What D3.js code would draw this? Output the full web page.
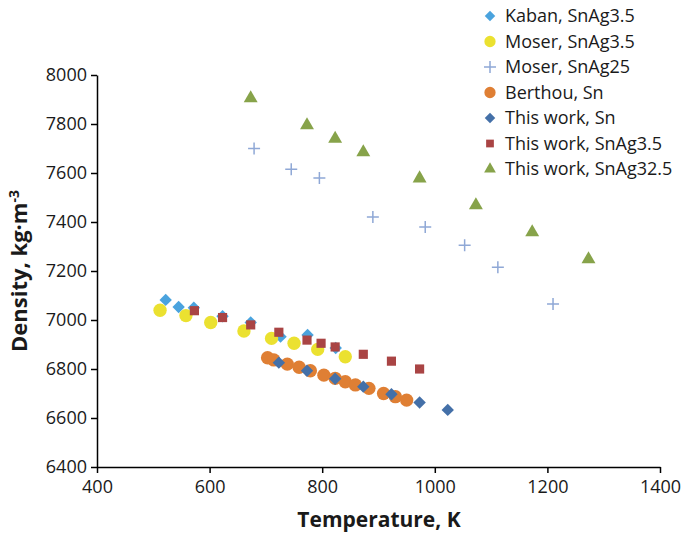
<!DOCTYPE html>
<meta charset="utf-8">
<script src="https://d3js.org/d3.v7.min.js"></script>
<style>
body { margin: 0; background: #fff; }
svg text { font-family: "Open Sans", "Noto Sans", sans-serif; fill: #1a1a1a; }
.axis path, .axis line { stroke: #000; stroke-width: 1.5; }
.axis text { font-size: 18px; }
.titulo { font-weight: bold; }
.legenda text { font-size: 18px; }
</style>
<body>
<div id="canvas"></div>
<script>

// ticks
var xTicks = [400, 600, 800, 1000, 1200, 1400];
var yTicks = [6400, 6600, 6800, 7000, 7200, 7400, 7600, 7800, 8000];

// series (temperature K, density kg/m3)
var kabanT = [522, 545, 572, 623, 673, 726, 774, 824];
var kabanD = [7082, 7053, 7050, 7015, 6990, 6932, 6939, 6886];

var moser35T = [512, 558, 602, 661, 710, 750, 792, 841];
var moser35D = [7040, 7018, 6990, 6955, 6925, 6905, 6880, 6850];

var moser25T = [679, 745, 795, 890, 983, 1053, 1112, 1210];
var moser25D = [7700, 7615, 7580, 7420, 7380, 7305, 7215, 7065];

var berthouT = [703, 714, 738, 759, 779, 803, 823, 841, 859, 883, 909, 930, 950];
var berthouD = [6846, 6837, 6820, 6807, 6793, 6775, 6762, 6748, 6735, 6721, 6700, 6687, 6673];

var snT = [723, 773, 823, 873, 923, 973, 1023];
var snD = [6826, 6793, 6760, 6728, 6697, 6663, 6633];

var snag35T = [573, 623, 673, 723, 773, 798, 823, 873, 923, 973];
var snag35D = [7038, 7010, 6980, 6950, 6918, 6905, 6890, 6860, 6832, 6800];

var snag325T = [673, 773, 823, 873, 973, 1073, 1173, 1273];
var snag325D = [7905, 7795, 7740, 7685, 7578, 7468, 7358, 7248];

var series = [
  {nome: "Kaban, SnAg3.5", t: kabanT, d: kabanD, cor: "#4aa3de", forma: "diamante"},
  {nome: "Moser, SnAg3.5", t: moser35T, d: moser35D, cor: "#ebe130", forma: "circulo"},
  {nome: "Moser, SnAg25", t: moser25T, d: moser25D, cor: "#8fa8d6", forma: "cruz"},
  {nome: "Berthou, Sn", t: berthouT, d: berthouD, cor: "#df7f34", forma: "circulo"},
  {nome: "This work, Sn", t: snT, d: snD, cor: "#4470a8", forma: "diamante"},
  {nome: "This work, SnAg3.5", t: snag35T, d: snag35D, cor: "#a94444", forma: "quadrado"},
  {nome: "This work, SnAg32.5", t: snag325T, d: snag325D, cor: "#87a34a", forma: "triangulo"}
];

var width = 682, height = 534;
var margin = {top: 75, right: 22, bottom: 67, left: 97};

var svg = d3.select("#canvas").append("svg")
  .attr("width", width).attr("height", height);

var x = d3.scaleLinear().domain([400, 1400]).range([margin.left, width - margin.right]);
var y = d3.scaleLinear().domain([6400, 8000]).range([height - margin.bottom, margin.top]);

// eixos
svg.append("g").attr("class", "axis")
  .attr("transform", "translate(0," + y(6400) + ")")
  .call(d3.axisBottom(x).tickValues(xTicks).tickFormat(d3.format("d")).tickSize(6).tickSizeOuter(0).tickPadding(5))
  .selectAll("text").attr("dy", "0.85em");

svg.append("g").attr("class", "axis")
  .attr("transform", "translate(" + x(400) + ",0)")
  .call(d3.axisLeft(y).tickValues(yTicks).tickFormat(d3.format("d")).tickSize(6).tickSizeOuter(0).tickPadding(4));

// simbolos
function simbolo(forma, tam) {
  if (forma == "diamante") return d3.symbol().type(d3.symbolSquare).size(tam * 0.55)();
  if (forma == "circulo") return d3.symbol().type(d3.symbolCircle).size(tam)();
  if (forma == "quadrado") return d3.symbol().type(d3.symbolSquare).size(tam * 0.6)();
  if (forma == "triangulo") return d3.symbol().type(d3.symbolTriangle).size(tam * 0.6)();
  return "M-6,0H6M0,-6V6";
}

function desenha(g, s, px, py, tam) {
  var p = g.append("path")
    .attr("d", simbolo(s.forma, tam))
    .attr("transform", "translate(" + px + "," + py + ")" + (s.forma == "diamante" ? " rotate(45)" : ""));
  if (s.forma == "cruz") p.attr("fill", "none").attr("stroke", s.cor).attr("stroke-width", 1.5);
  else p.attr("fill", s.cor);
}

var pontos = svg.append("g");
series.forEach(function(s) {
  s.t.forEach(function(t, i) {
    desenha(pontos, s, x(t), y(s.d[i]), 140);
  });
});

// legenda
var leg = svg.append("g").attr("class", "legenda");
series.forEach(function(s, i) {
  var ly = 16 + i * 25.5;
  desenha(leg, s, 490, ly, 100);
  leg.append("text").attr("x", 505).attr("y", ly).attr("dy", "0.35em").text(s.nome);
});

// titulos
svg.append("text").attr("class", "titulo")
  .attr("x", 379).attr("y", 527)
  .attr("font-size", 21)
  .attr("text-anchor", "middle").text("Temperature, K");

svg.append("text").attr("class", "titulo")
  .attr("transform", "translate(27,271) rotate(-90)")
  .attr("font-size", 22)
  .attr("text-anchor", "middle")
  .html("Density, kg·m<tspan dy='-8' font-size='14'>-3</tspan>");
</script>
</body>
